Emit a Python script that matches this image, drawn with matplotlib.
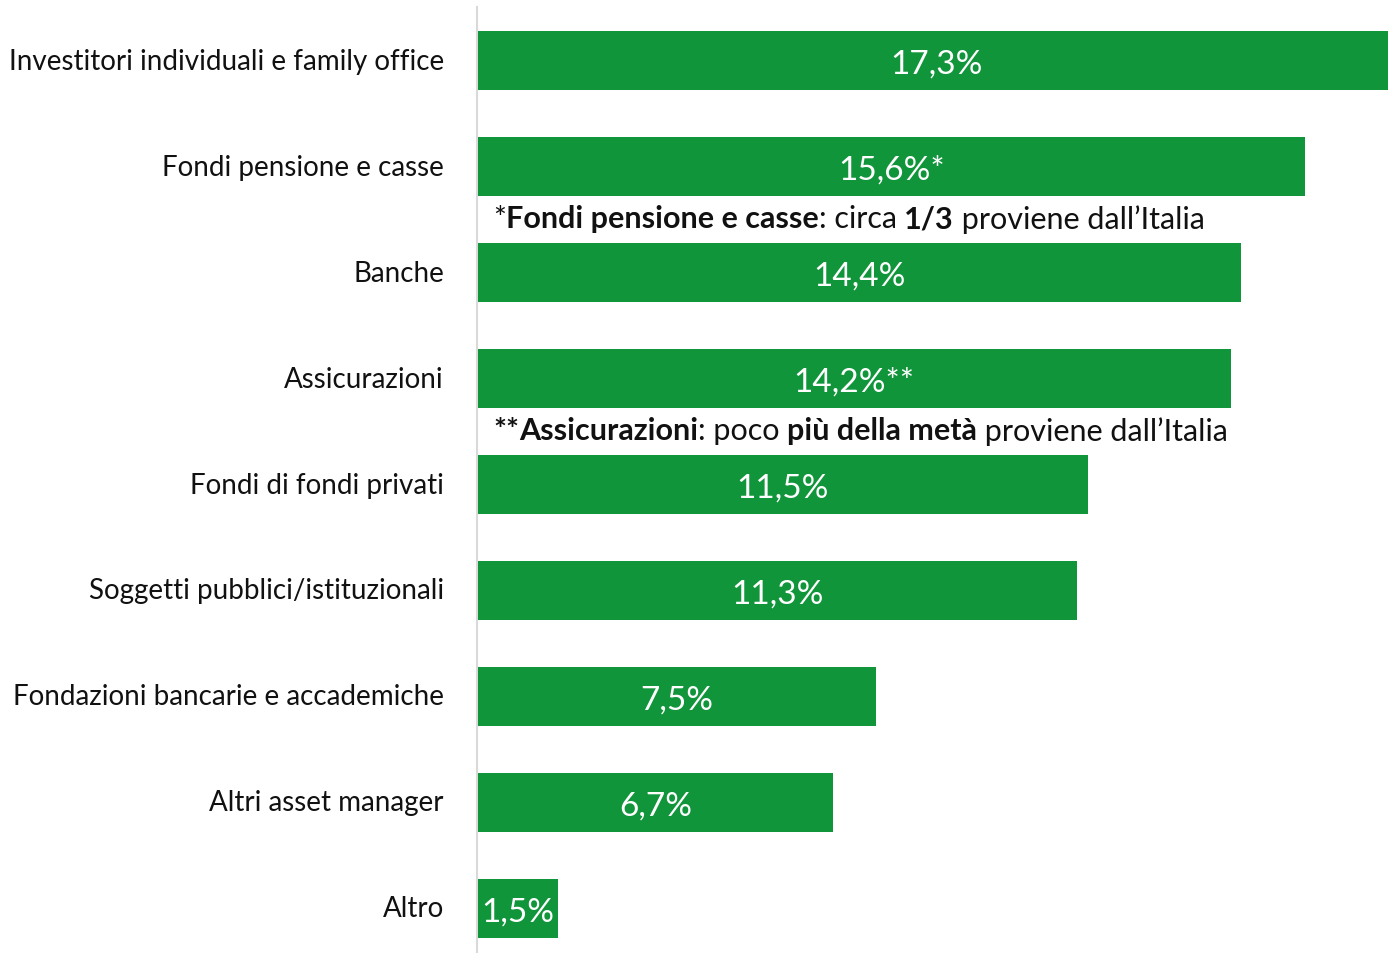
import matplotlib.pyplot as plt

categorie = ['Investitori individuali e family office', 'Fondi pensione e casse', 'Banche',
             'Assicurazioni', 'Fondi di fondi privati', 'Soggetti pubblici/istituzionali',
             'Fondazioni bancarie e accademiche', 'Altri asset manager', 'Altro']
valori = [17.3, 15.6, 14.4, 14.2, 11.5, 11.3, 7.5, 6.7, 1.5]
etichette = ['17,3%', '15,6%*', '14,4%', '14,2%**', '11,5%', '11,3%', '7,5%', '6,7%', '1,5%']

# note sotto le barre: (posizione y, [(testo, grassetto)])
note = [
    (1.49, [('*', False), ('Fondi pensione e casse', True), (': circa ', False), ('1/3', True),
            (' proviene dall\u2019Italia', False)]),
    (3.49, [('**', True), ('Assicurazioni', True), (': poco ', False), ('più della metà', True),
            (' proviene dall\u2019Italia', False)]),
]

plt.rcParams['font.family'] = ['Lato', 'DejaVu Sans']
verde = '#11953b'

fig = plt.figure(figsize=(13.88, 9.54), dpi=100)
ax = fig.add_axes([477 / 1388, 0, 911 / 1388, 946 / 954])

y = list(range(len(categorie)))
ax.barh(y, valori, height=0.555, color=verde, left=0, zorder=1)
ax.set_xlim(-1 / 53, 910 / 53)
ax.set_ylim(8.42, -0.505)

for i, (v, lab) in enumerate(zip(valori, etichette)):
    ax.text(v / 2, i + 0.03, lab, ha='center', va='center', color='white', fontsize=24)
    ax.text(-34 / 53, i, categorie[i], ha='right', va='center', fontsize=20, color='#111111')

for s in ['top', 'right', 'bottom']:
    ax.spines[s].set_visible(False)
ax.spines['left'].set_color('#d9d9d9')
ax.spines['left'].set_linewidth(1.5)
ax.spines['left'].set_zorder(0)
ax.set_xticks([])
ax.set_yticks([])

fig.canvas.draw()
renderer = fig.canvas.get_renderer()
for yy, pezzi in note:
    x_px = ax.transData.transform((15 / 53, 0))[0]
    y_px = ax.transData.transform((0, yy))[1]
    for testo, bold in pezzi:
        t = fig.text(x_px / fig.bbox.width, y_px / fig.bbox.height, testo, ha='left', va='center',
                     fontsize=22, fontweight='bold' if bold else 'normal', color='#111111')
        bb = t.get_window_extent(renderer)
        x_px = bb.x1

fig.savefig('out.png', dpi=100)
